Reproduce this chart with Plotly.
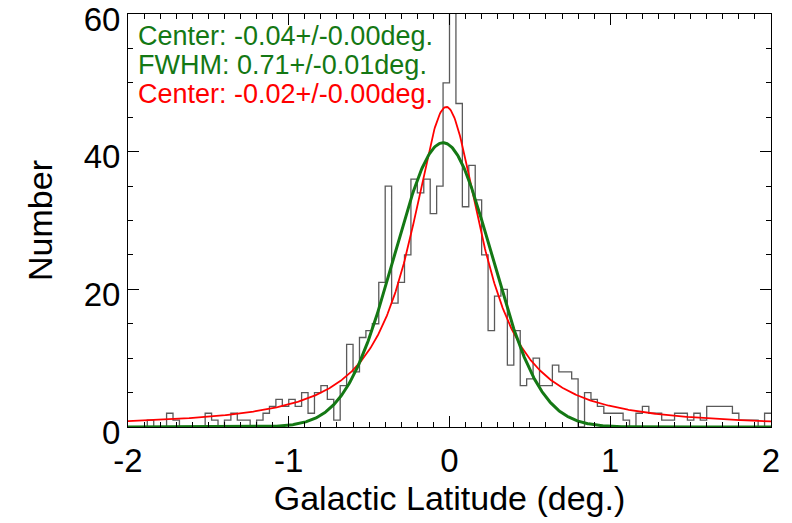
import numpy as np
import plotly.graph_objects as go

# Histogram of Galactic latitude: 100 bins of 0.04 deg from -2 to 2
bin_lo = -2.0
bin_width = 0.04
counts = [
    0, 0, 0, 1, 0, 0, 2, 1, 0, 0,
    0, 0, 2, 1, 0, 1, 2, 1, 1, 0,
    1, 2, 3, 4, 3, 4, 3, 5, 2, 5,
    6, 4, 1, 6, 12, 8, 13, 14, 15, 21,
    35, 18, 21, 25, 36, 34, 36, 31, 35, 50,
    63, 47, 32, 38, 33, 25, 14, 19, 20, 9,
    14, 6, 7, 10, 6, 6, 9, 8, 8, 7,
    0, 5, 4, 3, 2, 2, 2, 1, 0, 2,
    3, 2, 2, 1, 1, 2, 2, 1, 2, 1,
    3, 3, 3, 3, 2, 1, 1, 1, 0, 2,
]

# Gaussian fit (green)
gauss_center = -0.04
gauss_fwhm = 0.71
gauss_peak = 41.3

# Lorentzian fit (red)
lor_center = -0.02
lor_hwhm = 0.27
lor_peak = 46.5

x_ticks = [-2, -1, 0, 1, 2]
y_ticks = [0, 20, 40, 60]

edges = bin_lo + bin_width * np.arange(len(counts) + 1)
step_y = list(counts) + [counts[-1]]

xs = np.linspace(-2, 2, 801)
sigma = gauss_fwhm / (2 * np.sqrt(2 * np.log(2)))
gauss = gauss_peak * np.exp(-0.5 * ((xs - gauss_center) / sigma) ** 2)
lorentz = lor_peak / (1 + ((xs - lor_center) / lor_hwhm) ** 2)

GREEN = "rgb(20,120,20)"
RED = "rgb(255,0,0)"
FONT = "Liberation Sans, Arial, Helvetica, sans-serif"

fig = go.Figure()
fig.add_trace(go.Scatter(
    x=edges, y=step_y, mode="lines", line_shape="hv",
    line=dict(color="rgb(90,90,90)", width=1.3), showlegend=False,
))
fig.add_trace(go.Scatter(
    x=xs, y=lorentz, mode="lines",
    line=dict(color=RED, width=1.8), showlegend=False,
))
fig.add_trace(go.Scatter(
    x=xs, y=gauss, mode="lines",
    line=dict(color=GREEN, width=3), showlegend=False,
))

labels = [
    (f"Center: {gauss_center:.2f}+/-0.00deg.", GREEN, 36),
    (f"FWHM: {gauss_fwhm:.2f}+/-0.01deg.", GREEN, 65),
    (f"Center: {lor_center:.2f}+/-0.00deg.", RED, 94),
]
for text, color, ypix in labels:
    fig.add_annotation(
        text=text, xref="paper", yref="paper",
        x=(137 - 128) / 643, y=1 - (ypix - 14) / 413,
        xanchor="left", yanchor="middle", showarrow=False,
        borderpad=0,
        font=dict(family=FONT, size=27, color=color),
    )

axis_common = dict(
    showline=True, linecolor="black", linewidth=1,
    mirror="ticks", ticks="inside", ticklen=11, tickwidth=1,
    tickcolor="black", showgrid=False, zeroline=False,
    ticklabeloverflow="allow", automargin=False,
    tickfont=dict(family=FONT, size=33, color="black"),
)

fig.update_xaxes(
    range=[-2, 2], tickvals=x_ticks, ticktext=[str(v) for v in x_ticks],
    ticklabelstandoff=4,
    minor=dict(ticks="inside", dtick=0.1, ticklen=5, tickcolor="black", showgrid=False),
    title=dict(text="Galactic Latitude (deg.)", font=dict(family=FONT, size=34, color="black"),
               standoff=6),
    **axis_common,
)
fig.update_yaxes(
    range=[0, 60.001], tickvals=y_ticks, ticktext=[str(v) for v in y_ticks],
    ticklabelshift=5,
    minor=dict(ticks="inside", dtick=5, ticklen=5, tickcolor="black", showgrid=False),
    title=dict(text="Number", font=dict(family=FONT, size=34, color="black"), standoff=20),
    **axis_common,
)

fig.update_layout(
    width=792, height=523,
    margin=dict(l=128, r=21, t=14, b=96),
    plot_bgcolor="white", paper_bgcolor="white",
)

fig.write_html("out.html")
